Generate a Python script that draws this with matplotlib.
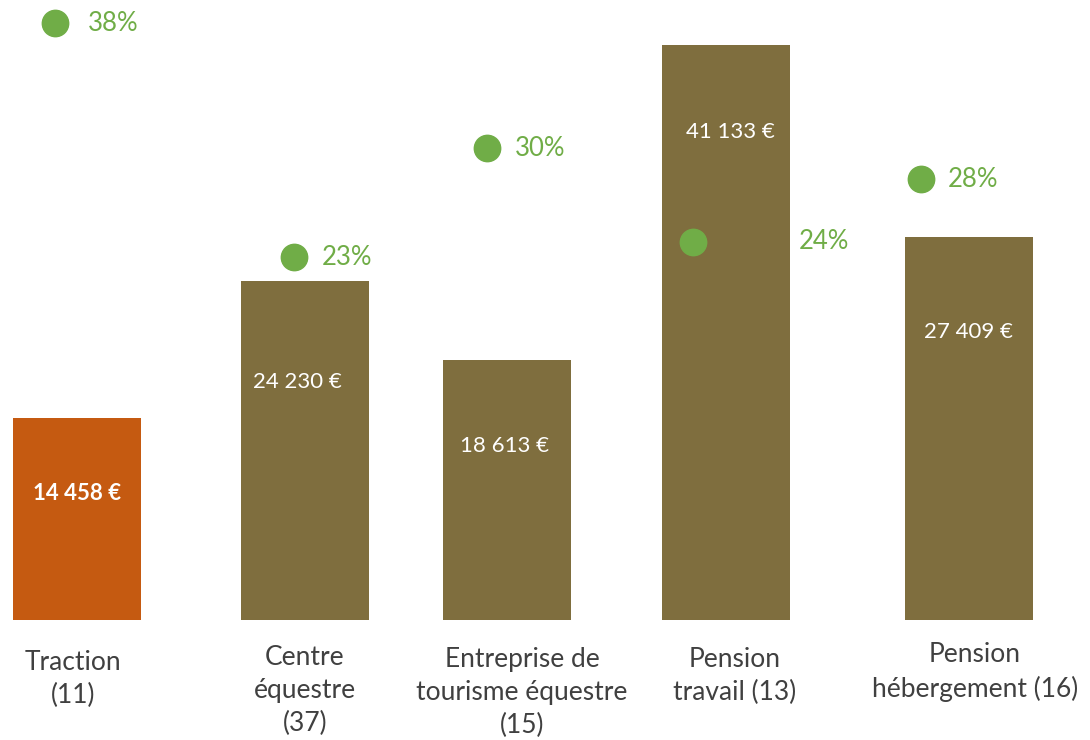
import matplotlib
matplotlib.use("Agg")
import matplotlib.pyplot as plt

# data
categories = ["Traction\n(11)", "Centre\néquestre\n(37)", "Entreprise de\ntourisme équestre\n(15)",
              "Pension\ntravail (13)", "Pension\nhébergement (16)"]
revenus = [14458, 24230, 18613, 41133, 27409]
revenu_labels = ["14 458 €", "24 230 €", "18 613 €", "41 133 €", "27 409 €"]
parts = [0.38, 0.23, 0.30, 0.24, 0.28]
part_labels = ["38%", "23%", "30%", "24%", "28%"]

# layout (pixel offsets)
bar_x = [77, 305, 507, 726, 969]
dot_dx = [-22, -11, -20, -33, -48]
pct_dx = [33, 28, 28, 106, 27]
lab_dx = [0, -8, -2, 4, -1]
lab_dy = [-76, -101, -86, -87, -95]
cat_x = [73, 305, 522, 735, 975]
cat_dy = [-30, -25, -27, -27, -22]
colors = ["#C55A11", "#7F6E3E", "#7F6E3E", "#7F6E3E", "#7F6E3E"]
green = "#70AD47"
font = ["Lato", "DejaVu Sans"]
px = 0.72  # points per pixel at 100 dpi

fig = plt.figure(figsize=(10.9, 7.4), dpi=100, facecolor="white")
ax = fig.add_axes([0, 120/740, 1, 620/740])
ax2 = ax.twinx()

ax.bar(bar_x, revenus, width=128, color=colors, zorder=1)
ax.set_xlim(0, 1090)
ax.set_ylim(0, 44350)
ax2.set_ylim(-0.0028, 0.395)

for i, (x, v) in enumerate(zip(bar_x, revenus)):
    ax.annotate(revenu_labels[i], (x, v), xytext=(lab_dx[i] * px, lab_dy[i] * px), textcoords="offset points",
                ha="center", va="center", color="white", fontsize=16,
                fontweight="bold" if i == 0 else "normal", family=font)

dots_x = [x + d for x, d in zip(bar_x, dot_dx)]
ax2.plot(dots_x, parts, linestyle="none", marker="o", markersize=19, color=green, zorder=3)
for i, (x, p) in enumerate(zip(dots_x, parts)):
    ax2.annotate(part_labels[i], (x, p), xytext=(pct_dx[i] * px, 0), textcoords="offset points",
                 ha="left", va="center", color=green, fontsize=18.5, family=font)

for i, (x, c) in enumerate(zip(cat_x, categories)):
    ax.annotate(c, (x, 0), xytext=(0, cat_dy[i] * px), textcoords="offset points", ha="center", va="top",
                color="#404040", fontsize=19, family=font, linespacing=1.4, annotation_clip=False)

for a in (ax, ax2):
    a.set_axis_off()

fig.savefig("out.png", dpi=100, facecolor="white")
